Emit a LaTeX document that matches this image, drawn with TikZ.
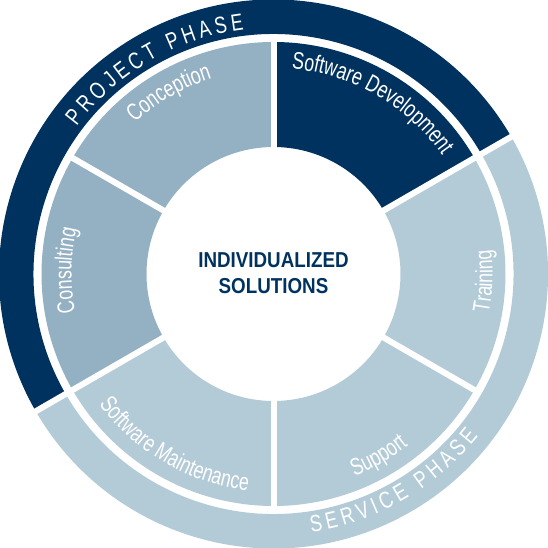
\documentclass[tikz,border=0pt]{standalone}
\usepackage{fontspec}
\usetikzlibrary{decorations.text}
\newfontfamily\lblfam[FakeStretch=0.74]{Liberation Sans}
\newfontfamily\phfam[FakeStretch=0.77]{Liberation Sans}
\newfontfamily\ctrfam[FakeStretch=0.87]{Liberation Sans}
\newcommand\lblfont{\lblfam\fontsize{24}{28}\selectfont}
\newcommand\phfont{\phfam\fontsize{23.5}{27}\selectfont}
\definecolor{cNavy}{RGB}{0,50,96}
\definecolor{cMid}{RGB}{148,176,195}
\definecolor{cLight}{RGB}{179,203,215}
\def\phsz{18.1}
% #1 radius, #2 centre angle, #3 direction, #4 rotation offset, #5 tracking, #6 name prefix, #7 list char/em-width
\newcommand\arcletters[7]{%
  \xdef\aTot{0}%
  \foreach \ch/\w in {#7}{%
    \pgfmathsetmacro\aTmp{\aTot+\w*\phsz+#5}\xdef\aTot{\aTmp}}%
  \pgfmathsetmacro\aStart{#2-(#3)*((\aTot-#5)/2)/#1*180/pi}%
  \xdef\aCum{0}%
  \foreach \ch/\w [count=\i] in {#7}{%
    \pgfmathsetmacro\aAng{\aStart+(#3)*(\aCum+\w*\phsz/2)/#1*180/pi}%
    \node[phletter, rotate=\aAng+(#4)] (#6\i) at (\aAng:#1) {\ch};
    \pgfmathsetmacro\aTmp{\aCum+\w*\phsz+#5}\xdef\aCum{\aTmp}}%
}
\begin{document}
\begin{tikzpicture}[x=1pt,y=1pt,
  phletter/.style={font=\phfont, text=white, inner sep=0pt, anchor=base},
  ctext/.style={font=\ctrfam\bfseries\fontsize{21.6}{26}\selectfont, text=cNavy, inner sep=0pt, anchor=base},
  gap/.style={white, line width=6pt},
  arclabel/.style={decorate, decoration={text along path, text align=center, text color=white, text={|\lblfont|#1}}}
]
\useasboundingbox (-273.5,-274) rectangle (273.5,274);
% outer phase rings
\fill[cNavy] (30:240) arc[start angle=30, end angle=210, radius=240] -- (210:274.5) arc[start angle=210, end angle=30, radius=274.5] -- cycle;
\fill[cLight] (210:240) arc[start angle=210, end angle=390, radius=240] -- (390:274.5) arc[start angle=390, end angle=210, radius=274.5] -- cycle;
\draw[gap] (30:235) -- (30:280);
\draw[gap] (210:235) -- (210:280);
% segments
\foreach \a/\b/\c in {30/90/cNavy, 90/150/cMid, 150/210/cMid, 210/270/cLight, 270/330/cLight, 330/390/cLight}{
  \fill[\c] (\a:127) arc[start angle=\a, end angle=\b, radius=127] -- (\b:232) arc[start angle=\b, end angle=\a, radius=232] -- cycle;
}
\foreach \a in {30,90,150,210,270,330}{
  \draw[gap] (\a:120) -- (\a:236);
}
% segment labels
\path[arclabel=Software Development] (100:206) arc[start angle=100, end angle=20, radius=206];
\path[arclabel=Conception] (150:205) arc[start angle=150, end angle=90, radius=205];
\path[arclabel=Consulting] (224:202) arc[start angle=224, end angle=134, radius=202];
\path[arclabel=Software Maintenance] (205:218) arc[start angle=205, end angle=275, radius=218];
\path[arclabel=Support] (265:218) arc[start angle=265, end angle=335, radius=218];
\path[arclabel=Training] (-47:219) arc[start angle=-47, end angle=43, radius=219];
% phase titles
\arcletters{246}{120}{-1}{-90}{4}{pp}{P/.667,R/.722,O/.778,J/.5,E/.667,C/.722,T/.611,{}/.278,P/.667,H/.722,A/.667,S/.667,E/.667}
\arcletters{261}{300}{1}{90}{4.3}{sp}{S/.667,E/.667,R/.722,V/.667,I/.278,C/.722,E/.667,{}/.278,P/.667,H/.722,A/.667,S/.667,E/.667}
% centre
\node[ctext] (t1) at (0,6) {INDIVIDUALIZED};
\node[ctext] (t2) at (0,-20) {SOLUTIONS};
\end{tikzpicture}
\end{document}
